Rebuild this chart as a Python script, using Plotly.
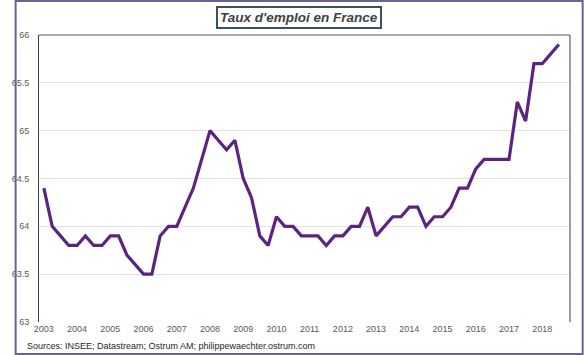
import plotly.graph_objects as go

# Quarterly employment rate (%), 2003Q1 .. 2018Q3
start_year = 2003
values = [
    64.4, 64.0, 63.9, 63.8,   # 2003
    63.8, 63.9, 63.8, 63.8,   # 2004
    63.9, 63.9, 63.7, 63.6,   # 2005
    63.5, 63.5, 63.9, 64.0,   # 2006
    64.0, 64.2, 64.4, 64.7,   # 2007
    65.0, 64.9, 64.8, 64.9,   # 2008
    64.5, 64.3, 63.9, 63.8,   # 2009
    64.1, 64.0, 64.0, 63.9,   # 2010
    63.9, 63.9, 63.8, 63.9,   # 2011
    63.9, 64.0, 64.0, 64.2,   # 2012
    63.9, 64.0, 64.1, 64.1,   # 2013
    64.2, 64.2, 64.0, 64.1,   # 2014
    64.1, 64.2, 64.4, 64.4,   # 2015
    64.6, 64.7, 64.7, 64.7,   # 2016
    64.7, 65.3, 65.1, 65.7,   # 2017
    65.7, 65.8, 65.9,         # 2018
]
x_ticks = list(range(2003, 2019))
x_labels = [str(y) for y in x_ticks]
y_ticks = [63, 63.5, 64, 64.5, 65, 65.5, 66]
y_labels = ["63", "63.5", "64", "64.5", "65", "65.5", "66"]

title_text = "Taux d'emploi en France"
source_text = "Sources: INSEE; Datastream; Ostrum AM; philippewaechter.ostrum.com"

xs = [start_year + i / 4 for i in range(len(values))]

W, H = 584, 355
L, R, T, B = 25, 14, 35, 33
pw, ph = W - L - R, H - T - B

def px_x(p):
    return (p - L) / pw

def px_y(p):
    return (H - B - p) / ph

FONT = "Liberation Sans, Arial, sans-serif"

fig = go.Figure()
fig.add_trace(go.Scatter(
    x=xs, y=values, mode="lines",
    line=dict(color="#5B2480", width=3.2),
    hoverinfo="x+y", showlegend=False,
))

fig.update_layout(
    width=W, height=H,
    margin=dict(l=L, r=R, t=T, b=B, pad=0),
    paper_bgcolor="white", plot_bgcolor="white",
    font=dict(family=FONT, size=9, color="#595959"),
    xaxis=dict(
        range=[2003 - 5 / 34.1, 2003 + (570 - 30) / 34.1],
        tickvals=x_ticks, ticktext=x_labels,
        showgrid=False, zeroline=False, showline=False,
        ticks="", tickfont=dict(size=9, color="#595959"),
        fixedrange=True,
    ),
    yaxis=dict(
        range=[63, 66],
        tickvals=y_ticks, ticktext=y_labels,
        showgrid=True, gridcolor="#E3E3E3", gridwidth=1,
        zeroline=False, showline=True, linecolor="#404040", linewidth=1,
        ticks="", ticklabelstandoff=7, tickfont=dict(size=9, color="#595959"),
        fixedrange=True,
    ),
    shapes=[
        # top border (gray)
        dict(type="line", xref="paper", yref="paper", x0=0, x1=1, y0=1, y1=1,
             line=dict(color="#8C8C8C", width=1.5)),
        # right border (dark)
        dict(type="line", xref="paper", yref="paper", x0=1, x1=1, y0=0, y1=1,
             line=dict(color="#404040", width=1)),
        # outer frame of the whole picture
        dict(type="rect", xref="paper", yref="paper",
             x0=px_x(1), x1=px_x(583), y0=px_y(354), y1=px_y(1),
             line=dict(color="#6A6494", width=2), layer="above"),
    ],
    annotations=[
        dict(text="<b><i>" + title_text + "</i></b>",
             xref="paper", yref="paper", x=px_x(292), y=px_y(17),
             xanchor="center", yanchor="middle", showarrow=False,
             font=dict(family=FONT, size=13.5, color="#404040"),
             bordercolor="#3D5163", borderwidth=2, borderpad=2,
             bgcolor="white"),
        dict(text=source_text,
             xref="paper", yref="paper", x=px_x(11), y=px_y(346),
             xanchor="left", yanchor="middle", showarrow=False,
             font=dict(family=FONT, size=9, color="#262626")),
    ],
)

fig.write_html(
    "out.html",
    config={"displayModeBar": False},
    post_script="document.body.style.margin='0px';document.body.style.overflow='hidden';",
)
